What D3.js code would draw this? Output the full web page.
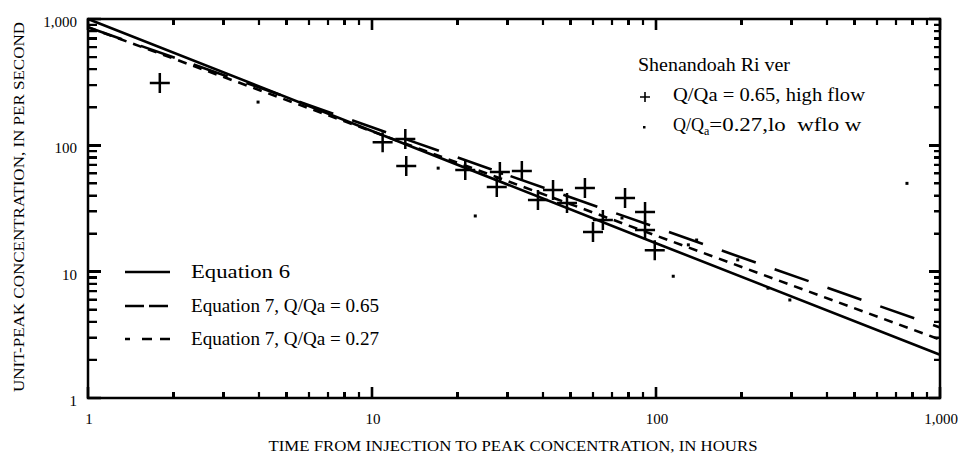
<!DOCTYPE html>
<html><head><meta charset="utf-8">
<script src="https://cdn.jsdelivr.net/npm/d3@7"></script>
<style>
body{margin:0;background:#fff}
#wrap{position:relative;width:958px;height:457px}
svg{display:block;position:absolute;left:0;top:0}
text{font-family:"Liberation Serif","Times New Roman",serif;fill:#000}
.tk{position:absolute;background:#000}
</style>
</head><body>
<div id="wrap"><svg id="c" width="958" height="457"></svg></div>
<script>
// ---------- data ----------
const xMajorTicks = [1, 10, 100, 1000];
const xTickLabels = ["1", "10", "100", "1,000"];
const yMajorTicks = [1, 10, 100, 1000];
const yTickLabels = ["1", "10", "100", "1,000"];
const minorMultipliers = [2, 3, 4, 5, 6, 7, 8, 9];

const curveX   = [1, 10, 100, 1000];
const eq6Y     = [1000, 130, 16.8, 2.2];
const eq7HighY = [860, 139, 22.4, 3.62];
const eq7LowY  = [860, 129, 19.3, 2.9];

const highFlowX = [1.79, 10.9, 13.1, 13.2, 21.3, 28.2, 27.5, 33.7, 38.4, 43.4, 48.6, 56.2, 77.8, 91.5, 65, 60, 99, 91.5];
const highFlowY = [311, 106, 112, 68.6, 63.8, 61.5, 46.8, 62.6, 36.9, 44.3, 35, 45.9, 38.3, 29.7, 25.6, 20.6, 14.8, 21.4];

const lowFlowX = [3.97, 17.1, 23.1, 28.6, 75.9, 115, 130, 139, 194, 248, 296, 765];
const lowFlowY = [220, 66, 27.6, 60, 26.6, 9.2, 16.3, 17.8, 12.4, 7.4, 5.97, 50];

const xTitle = "TIME FROM INJECTION TO PEAK CONCENTRATION, IN HOURS";
const yTitle = "UNIT-PEAK CONCENTRATION, IN PER SECOND";
const lineLegend = ["Equation 6", "Equation 7, Q/Qa = 0.65", "Equation 7, Q/Qa = 0.27"];

// ---------- chart ----------
const svg = d3.select("#c");
const L = 88, R = 940, T = 19, B = 398;
const x = d3.scaleLog().domain([1, 1000]).range([L, R]);
const y = d3.scaleLog().domain([1, 1000]).range([B, T]);

// frame
svg.append("path").attr("d", `M${L},${T}H${R}V${B}H${L}Z`)
  .style("fill", "none").attr("stroke", "#000").attr("stroke-width", 2.5);

// tick labels
xMajorTicks.forEach((v, i) => {
  svg.append("text").attr("x", x(v) + 1).attr("y", 424).attr("text-anchor", "middle")
    .attr("font-size", 15).text(xTickLabels[i]);
});
yMajorTicks.forEach((v, i) => {
  svg.append("text").attr("x", 77).attr("y", y(v) + 8).attr("text-anchor", "end")
    .attr("font-size", 15).text(yTickLabels[i]);
});

// curves
const line = d3.line().x(d => x(d[0])).y(d => y(d[1]));
const curves = [
  {ys: eq6Y, dash: null},
  {ys: eq7HighY, dash: "36,20"},
  {ys: eq7LowY, dash: "9,7"}
];
curves.forEach(c => {
  const p = svg.append("path").datum(curveX.map((v, i) => [v, c.ys[i]]))
    .attr("d", line).style("fill", "none").attr("stroke", "#000")
    .attr("stroke-width", 2.6);
  if (c.dash) p.attr("stroke-dasharray", c.dash);
});

// high flow plus markers
const hs = 10;
svg.append("g").selectAll("path").data(highFlowX.map((v, i) => [v, highFlowY[i]])).join("path")
  .attr("d", d => {
    const px = x(d[0]), py = y(d[1]);
    return `M${px - hs},${py}H${px + hs}M${px},${py - hs}V${py + hs}`;
  })
  .attr("stroke", "#000").attr("stroke-width", 2.5).style("fill", "none");

// low flow dots
svg.append("g").selectAll("rect").data(lowFlowX.map((v, i) => [v, lowFlowY[i]])).join("rect")
  .attr("x", d => x(d[0]) - 1.5).attr("y", d => y(d[1]) - 1.5)
  .attr("width", 3).attr("height", 3).attr("fill", "#000");

// lower-left legend
const legY = [272, 306, 339];
const legDash = [null, "19,5", "5,12,10,8,10"];
const legW = [99, 188, 188];
lineLegend.forEach((t, i) => {
  const l = svg.append("line").attr("x1", 125).attr("x2", 170).attr("y1", legY[i]).attr("y2", legY[i])
    .attr("stroke", "#000").attr("stroke-width", 2.5);
  if (legDash[i]) l.attr("stroke-dasharray", legDash[i]);
  svg.append("text").attr("x", 191).attr("y", legY[i] + 6).attr("font-size", 19)
    .attr("textLength", legW[i]).attr("lengthAdjust", "spacingAndGlyphs").text(t);
});

// upper-right legend
svg.append("text").attr("x", 638).attr("y", 71).attr("font-size", 18)
  .attr("textLength", 152).attr("lengthAdjust", "spacingAndGlyphs").text("Shenandoah Ri ver");
svg.append("path").attr("d", "M640,97H650M645,92V102").attr("stroke", "#000").attr("stroke-width", 1.6);
svg.append("text").attr("x", 673).attr("y", 101).attr("font-size", 18)
  .attr("textLength", 192).attr("lengthAdjust", "spacingAndGlyphs").text("Q/Qa = 0.65, high flow");
svg.append("rect").attr("x", 643).attr("y", 126).attr("width", 2.5).attr("height", 2.5).attr("fill", "#000");
const t3 = svg.append("text").attr("x", 673).attr("y", 131).attr("font-size", 18)
  .attr("xml:space", "preserve").style("white-space", "pre");
t3.append("tspan").text("Q/Q");
t3.append("tspan").attr("font-size", 12).attr("dy", 4).text("a");
t3.append("tspan").attr("dy", -4).attr("textLength", 152).attr("lengthAdjust", "spacingAndGlyphs")
  .text("=0.27,lo\u00a0\u00a0wflo w");

// axis titles
svg.append("text").attr("x", 513).attr("y", 451).attr("text-anchor", "middle").attr("font-size", 15.5)
  .attr("textLength", 489).attr("lengthAdjust", "spacingAndGlyphs").text(xTitle);
svg.append("text").attr("transform", "translate(24,207) rotate(-90)").attr("text-anchor", "middle")
  .attr("font-size", 15.5).attr("textLength", 370).attr("lengthAdjust", "spacingAndGlyphs").text(yTitle);

// ticks (inward), computed from the scales
const tickData = [];
[1, 10, 100].forEach(dec => minorMultipliers.forEach(k => tickData.push({v: k * dec, major: false})));
xMajorTicks.forEach(v => tickData.push({v: v, major: true}));

let dMinor = "", dMajor = "";
tickData.forEach(t => {
  const px = x(t.v), py = y(t.v);
  const lb = t.major ? 11 : 6, ll = t.major ? 13 : 9;
  const s = `M${px},${B}L${px},${B - lb}M${px},${T}L${px},${T + lb}` +
            `M${L},${py}L${L + ll},${py}M${R},${py}L${R - lb},${py}`;
  if (t.major) dMajor += s; else dMinor += s;
});
svg.append("path").attr("d", dMinor)
  .style("fill", "none").style("stroke", "#000").style("stroke-width", "2.2px");
svg.append("path").attr("d", dMajor)
  .style("fill", "none").style("stroke", "#000").style("stroke-width", "2.6px");

// same ticks also as HTML overlay bars
const wrap = d3.select("#wrap");
tickData.forEach(t => {
  const px = x(t.v), py = y(t.v);
  const w = t.major ? 2.6 : 2.2;
  const lb = t.major ? 11 : 6, ll = t.major ? 13 : 9;
  const bars = [
    [px - w / 2, B - lb, w, lb],
    [px - w / 2, T, w, lb],
    [L, py - w / 2, ll, w],
    [R - lb, py - w / 2, lb, w]
  ];
  bars.forEach(b => wrap.append("div").attr("class", "tk")
    .style("left", b[0] + "px").style("top", b[1] + "px")
    .style("width", b[2] + "px").style("height", b[3] + "px"));
});
</script>
</body></html>
